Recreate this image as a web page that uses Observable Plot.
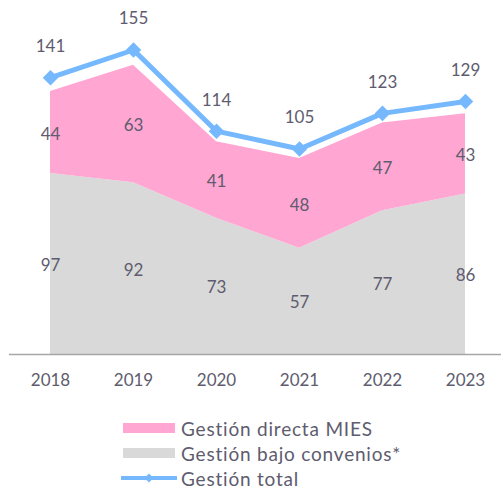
<!DOCTYPE html>
<html>
<head>
<meta charset="utf-8">
<script src="https://cdn.jsdelivr.net/npm/d3@7"></script>
<script src="https://cdn.jsdelivr.net/npm/@observablehq/plot@0.6"></script>
<style>
  body { margin: 0; background: #fff; font-family: Lato, "Open Sans", sans-serif; }
  #wrap { position: relative; width: 501px; height: 400px; }
  #wrap > svg { position: absolute; left: 0; top: 0; }
  #legend { position: relative; width: 501px; height: 89px; color: #5e5c6e; font-size: 19px; letter-spacing: 0.8px; }
  .item { position: absolute; left: 121px; height: 25px; display: flex; align-items: center; white-space: nowrap; }
  .sw { width: 52px; height: 10px; margin-left: 2px; margin-right: 6px; }
</style>
</head>
<body>
<div id="wrap"></div>
<div id="legend"></div>
<script>
const years = [2018, 2019, 2020, 2021, 2022, 2023];
const convenios = [97, 92, 73, 57, 77, 86];
const directa = [44, 63, 41, 48, 47, 43];
const total = [141, 155, 114, 105, 123, 129];

const seriesNames = ["Gestión directa MIES", "Gestión bajo convenios*", "Gestión total"];
const colors = { directa: "#ffa6d2", convenios: "#d9d9d9", total: "#76b8fd" };
const textColor = "#5e5c6e";

const rows = years.map((year, i) => ({
  year, conv: convenios[i], dir: directa[i], tot: total[i]
}));

const W = 501, H = 400;
const common = {
  width: W, height: H,
  marginLeft: 9, marginRight: 0, marginTop: 18, marginBottom: 46
};

const areaPlot = Plot.plot({
  ...common,
  style: { fontFamily: "Lato, sans-serif", fontSize: "17px", color: textColor, background: "transparent" },
  x: { domain: [2018, 2023], range: [50, 465], axis: null },
  y: { domain: [0, 180], range: [354, 18.1], axis: null },
  marks: [
    Plot.areaY(rows, { x: "year", y1: 0, y2: "conv", fill: colors.convenios, curve: "linear" }),
    Plot.areaY(rows, { x: "year", y1: "conv", y2: d => d.conv + d.dir, fill: colors.directa, curve: "linear" }),
    Plot.ruleY([0], { stroke: "#a6a6a6", strokeWidth: 1.3 }),
    Plot.axisX({ ticks: years, tickFormat: d => String(d), tickSize: 0, tickPadding: 19, fontSize: 17, fill: textColor, label: null }),
    Plot.text(rows, { x: "year", y: d => d.conv / 2, text: "conv", fill: textColor, fontSize: 17, dy: 1.5 }),
    Plot.text(rows, { x: "year", y: d => d.conv + d.dir / 2, text: "dir", fill: textColor, fontSize: 17, dy: 2 })
  ]
});

const linePlot = Plot.plot({
  ...common,
  style: { fontFamily: "Lato, sans-serif", fontSize: "17px", color: textColor, background: "transparent" },
  x: { domain: [2018, 2023], range: [50, 465], axis: null },
  y: { domain: [0, 170], range: [356.4, 19.8], axis: null },
  marks: [
    Plot.line(rows, { x: "year", y: "tot", stroke: colors.total, strokeWidth: 5, strokeLinejoin: "miter" }),
    Plot.dot(rows, { x: "year", y: "tot", symbol: "diamond2", r: 7, fill: colors.total, stroke: "none" }),
    Plot.text(rows, { x: "year", y: "tot", text: "tot", fill: textColor, fontSize: 17, dy: -31 })
  ]
});

const wrap = document.getElementById("wrap");
wrap.appendChild(areaPlot);
wrap.appendChild(linePlot);

// Legend
const legend = document.getElementById("legend");
const tops = [15.5, 40.5, 65.5];
const kinds = ["directa", "convenios", "total"];
kinds.forEach((k, i) => {
  const item = document.createElement("div");
  item.className = "item";
  item.style.top = tops[i] + "px";
  if (k === "total") {
    const ns = "http://www.w3.org/2000/svg";
    const s = document.createElementNS(ns, "svg");
    s.setAttribute("width", 56); s.setAttribute("height", 12);
    s.style.marginRight = "4px";
    const ln = document.createElementNS(ns, "line");
    ln.setAttribute("x1", 1); ln.setAttribute("x2", 55); ln.setAttribute("y1", 6); ln.setAttribute("y2", 6);
    ln.setAttribute("stroke", colors.total); ln.setAttribute("stroke-width", 4); ln.setAttribute("stroke-linecap", "round");
    const dm = document.createElementNS(ns, "path");
    dm.setAttribute("d", "M28,1.5L32.5,6L28,10.5L23.5,6Z");
    dm.setAttribute("fill", colors.total);
    s.appendChild(ln); s.appendChild(dm);
    item.appendChild(s);
  } else {
    const sw = document.createElement("div");
    sw.className = "sw";
    sw.style.background = colors[k];
    item.appendChild(sw);
  }
  const t = document.createElement("span");
  t.textContent = seriesNames[i];
  item.appendChild(t);
  legend.appendChild(item);
});
</script>
</body>
</html>
